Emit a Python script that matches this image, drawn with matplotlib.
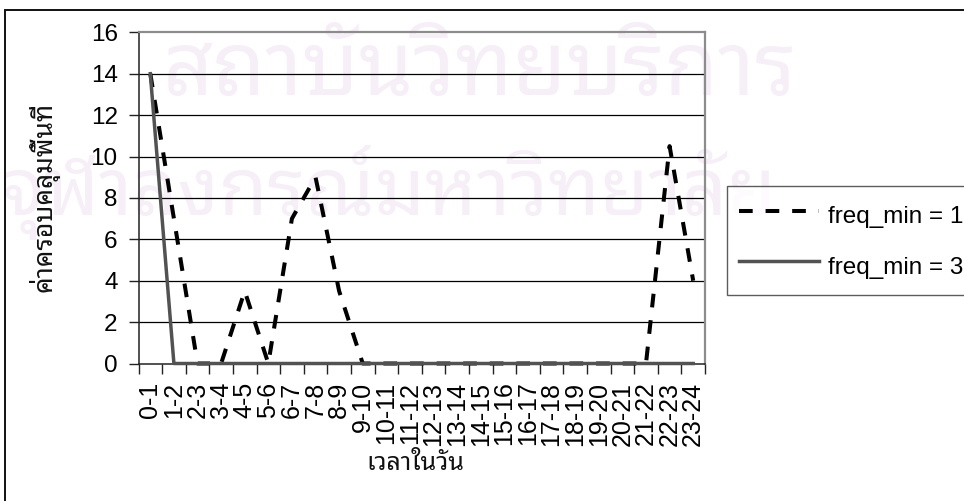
import matplotlib
matplotlib.use("Agg")
import matplotlib.pyplot as plt
from matplotlib import font_manager
from matplotlib.ft2font import FT2Font
from matplotlib.patches import Rectangle

# ---- data -------------------------------------------------------------
hours = ['0-1', '1-2', '2-3', '3-4', '4-5', '5-6', '6-7', '7-8', '8-9', '9-10',
         '10-11', '11-12', '12-13', '13-14', '14-15', '15-16', '16-17', '17-18',
         '18-19', '19-20', '20-21', '21-22', '22-23', '23-24']
freq_min_1 = [14, 7, 0, 0, 3.5, 0, 7, 9, 3.5, 0, 0, 0, 0, 0, 0, 0, 0, 0, 0, 0,
              0, 0, 10.5, 4]
freq_min_3 = [14, 0, 0, 0, 0, 0, 0, 0, 0, 0, 0, 0, 0, 0, 0, 0, 0, 0, 0, 0,
              0, 0, 0, 0]
series_labels = ['freq_min = 1', 'freq_min = 3']
y_ticks = [0, 2, 4, 6, 8, 10, 12, 14, 16]
x_title = 'เวลาในวัน'
y_title = 'ค่าครอบคลุมพื้นที่'
stamp_lines = ['สถาบันวิทยบริการ', 'จุฬาลงกรณ์มหาวิทยาลัย']


def thai_family():
    preferred = ['Noto Sans Thai Looped', 'Noto Serif Thai', 'Noto Sans Thai',
                 'Noto Sans Thai UI', 'Loma', 'Garuda', 'Waree', 'Umpush',
                 'Tlwg Typo', 'Norasi', 'Kinnari', 'Sawasdee', 'Laksaman',
                 'Tahoma', 'Cordia New']
    names = {f.name for f in font_manager.fontManager.ttflist}
    for n in preferred:
        if n in names:
            return n
    for f in font_manager.fontManager.ttflist:
        try:
            if 0x0E01 in FT2Font(f.fname).get_charmap():
                return f.name
        except Exception:
            continue
    return 'DejaVu Sans'


THAI = thai_family()
LATIN = 'Liberation Sans'
plt.rcParams['font.family'] = [LATIN, THAI, 'DejaVu Sans']

W, H = 964, 501
fig = plt.figure(figsize=(W / 100, H / 100), dpi=100)


def fx(px):
    return px / W


def fy(py):
    return 1 - py / H


# faint stamp behind the chart
stamp_col = '#f7eff7'
fig.text(fx(480), fy(72), stamp_lines[0], family=[THAI], fontsize=63,
         color=stamp_col, ha='center', va='center', zorder=-5)
fig.text(fx(1), fy(192), stamp_lines[1], family=[THAI], fontsize=57,
         color=stamp_col, ha='left', va='center', zorder=-5)

# outer chart frame (only top and left edges fall inside the image)
fig.add_artist(Rectangle((fx(5), -0.1), 1.2, fy(10) + 0.1,
                         transform=fig.transFigure, fill=False,
                         edgecolor='#111111', linewidth=1.4, zorder=1))

left, right, top, bottom = 138.5, 705, 32.3, 363.5
ax = fig.add_axes([fx(left), fy(bottom), fx(right - left), (bottom - top) / H])
ax.patch.set_alpha(0)

x = list(range(len(hours)))
ax.plot(x, freq_min_1, color='black', linewidth=2.9, dashes=(3.4, 3.2),
        solid_capstyle='butt', dash_capstyle='butt', clip_on=False, zorder=3,
        label=series_labels[0])
ax.plot(x, freq_min_3, color='#525252', linewidth=2.5, clip_on=False,
        zorder=4, label=series_labels[1])

ax.set_xlim(-0.5, len(hours) - 0.5)
ax.set_ylim(0, 16)

# y axis
ax.set_yticks(y_ticks)
ax.set_yticklabels([str(v) for v in y_ticks], fontsize=17.5, family=[LATIN])
ax.tick_params(axis='y', direction='out', length=7, width=1, pad=8,
               color='#222222')
for v in y_ticks[1:-1]:
    ax.axhline(v, color='black', linewidth=0.9, zorder=1)

# x axis: labels at category centres, tick marks on the boundaries
ax.set_xticks(x)
ax.set_xticklabels(hours, rotation=90, fontsize=18, family=[LATIN])
ax.tick_params(axis='x', which='major', length=0, pad=13)
ax.set_xticks([i - 0.5 for i in range(len(hours) + 1)], minor=True)
ax.tick_params(axis='x', which='minor', direction='out', length=7, width=1,
               color='#222222')

for s in ('left', 'bottom'):
    ax.spines[s].set_color('#222222')
    ax.spines[s].set_linewidth(1.1)
for s in ('top', 'right'):
    ax.spines[s].set_color('#8c8c8c')
    ax.spines[s].set_linewidth(1.6)

fig.text(fx(44), fy(197), y_title, rotation=90, family=[THAI], fontsize=19,
         fontweight='light', ha='center', va='center', color='#111111')
fig.text(fx(415), fy(464), x_title, family=[THAI], fontsize=18,
         fontweight='light', ha='center', va='center', color='#111111')

leg = ax.legend(loc='upper left', bbox_to_anchor=(fx(727), fy(186)),
                bbox_transform=fig.transFigure, prop={'family': LATIN, 'size': 17.5},
                frameon=True, fancybox=False, edgecolor='#333333',
                handlelength=3.3, handleheight=1.8, handletextpad=0.35,
                labelspacing=0.67, borderpad=0.5, borderaxespad=0)
leg.get_frame().set_linewidth(1.0)

fig.savefig('out.png', dpi=100)
